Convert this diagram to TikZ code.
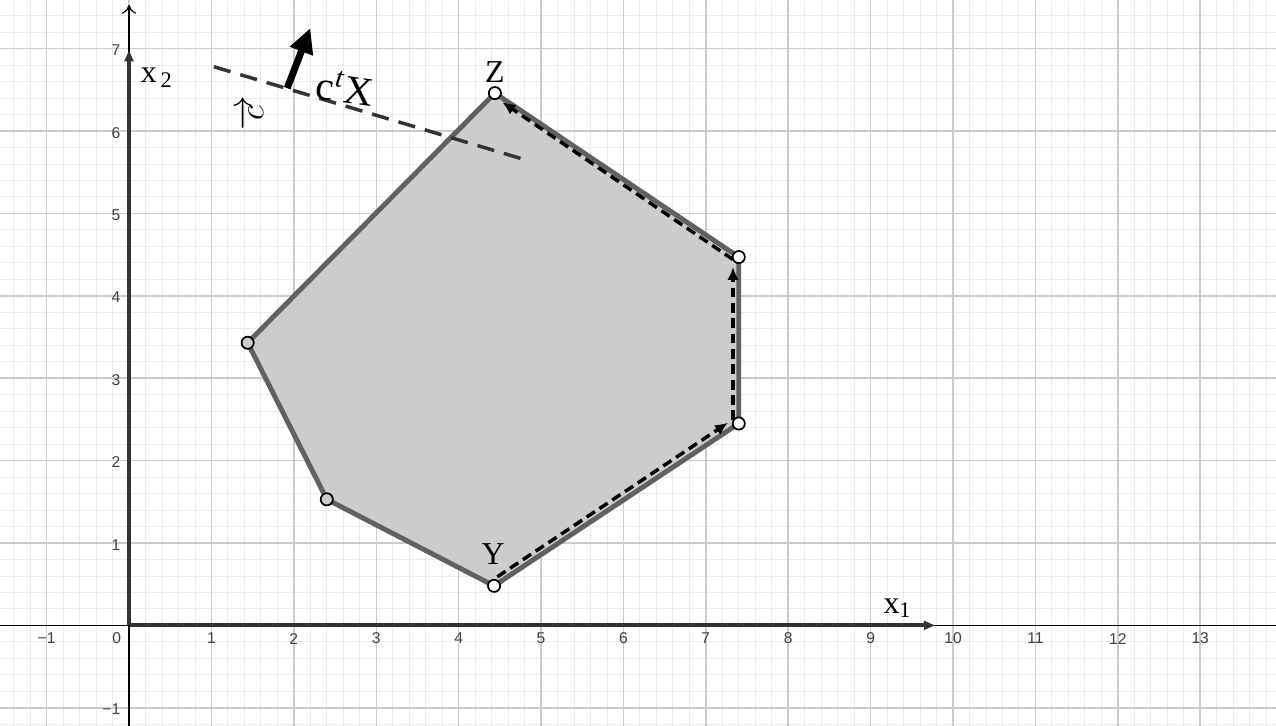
\documentclass[tikz,border=0pt]{standalone}
\usepackage{fontspec}
\setmainfont{Liberation Serif}
\setsansfont{Liberation Sans}
\usetikzlibrary{arrows.meta,calc}

\begin{document}
\begin{tikzpicture}[x=1cm,y=1cm,
    vertice/.style={circle,draw=black,line width=0.6pt,fill=white,inner sep=0pt,minimum size=4.2pt},
    ruta/.style={black,line width=1.2pt,dash pattern=on 3.4pt off 1.9pt,-{Latex[length=4.5pt,width=4pt]}},
    etiqueta/.style={inner sep=0pt,font=\fontsize{11}{12}\selectfont},
    marca/.style={inner sep=0pt,text=black!75,font=\sffamily\fontsize{5.4}{6}\selectfont}]
    % Colores
    \colorlet{regioncolor}{black!20}
    \colorlet{bordecolor}{black!62}
    \colorlet{ejecolor}{black!80}

    % Marco
    \useasboundingbox (-1.566,-1.22) rectangle (13.92,7.59);
    \fill[white] (-1.566,-1.22) rectangle (13.92,7.59);

    % Cuadricula
    \draw[black!8,line width=0.3pt,step=0.2] (-1.566,-1.22) grid (13.92,7.59);
    \draw[black!20,line width=0.5pt,step=1] (-1.566,-1.22) grid (13.92,7.59);

    % Ejes finos
    \draw[black,line width=0.4pt] (-1.566,0) -- (13.92,0);
    \draw[black,line width=0.4pt,-{To[length=3pt,width=5pt]}] (0,-1.22) -- (0,7.53);

    % Numeros de los ejes
    \foreach \x in {1,...,13}
    {
        \node[marca] (mx\x) at (\x,-0.16) {\x};
    }
    \node[marca] (mxm) at (-1,-0.16) {−1};
    \node[marca] (m0) at (-0.15,-0.16) {0};
    \foreach \y in {1,...,7}
    {
        \node[marca,anchor=east] (my\y) at (-0.1,\y-0.02) {\y};
    }
    \node[marca,anchor=east] (mym) at (-0.1,-1.02) {−1};

    % Ejes gruesos
    \draw[ejecolor,line width=1.4pt,-{Triangle[length=3.8pt,width=3pt]}] (0,0) -- (9.78,0);
    \draw[ejecolor,line width=1.4pt,-{Triangle[length=3.8pt,width=3pt]}] (0,0) -- (0,6.98);

    % Vertices de la region
    \coordinate (pY) at (4.43,0.48);
    \coordinate (pB) at (7.40,2.45);
    \coordinate (pC) at (7.40,4.47);
    \coordinate (pZ) at (4.44,6.46);
    \coordinate (pE) at (1.44,3.43);
    \coordinate (pF) at (2.40,1.53);

    % Region factible
    \filldraw[fill=regioncolor,draw=bordecolor,line width=1.7pt,line join=round]
        (pY) -- (pB) -- (pC) -- (pZ) -- (pE) -- (pF) -- cycle;

    % Recta de nivel
    \coordinate (n1) at (1.03,6.78);
    \coordinate (n2) at (4.81,5.65);
    \draw[black!80,line width=1.2pt,dash pattern=on 6pt off 3.5pt] (n1) -- (n2);

    % Direccion de mejora
    \coordinate (g0) at (1.92,6.52);
    \coordinate (g1) at (2.20,7.25);
    \draw[black,line width=2.4pt,-{Triangle[length=8.6pt,width=8pt]}] (g0) -- (g1);

    % Camino de Y a Z
    \draw[ruta] ([shift={(0.04,0.11)}]pY) -- ([shift={(-0.13,0.01)}]pB);
    \draw[ruta] ([shift={(-0.07,0.04)}]pB) -- ([shift={(-0.07,-0.12)}]pC);
    \draw[ruta] ([shift={(-0.07,-0.03)}]pC) -- ([shift={(0.09,-0.11)}]pZ);

    % Puntos
    \node[vertice] (Y) at (pY) {};
    \node[vertice] (B) at (pB) {};
    \node[vertice] (C) at (pC) {};
    \node[vertice] (Z) at (pZ) {};
    \node[vertice,fill=regioncolor] (E) at (pE) {};
    \node[vertice,fill=regioncolor] (F) at (pF) {};

    % Etiquetas
    \node[etiqueta] (lZ) at (4.44,6.71) {Z};
    \node[etiqueta] (lY) at (4.42,0.86) {Y};
    \node[etiqueta] (lx1) at (9.33,0.21) {x\textsubscript{1}};
    \node[etiqueta] (lx2) at (0.34,6.65) {x\textsubscript{\,2}};
    \node[etiqueta,font=\fontsize{14}{15}\selectfont,rotate=-8] (lcx) at (2.62,6.53) {c\textsuperscript{\textit{t}}X};
    \node[etiqueta,font=\fontsize{13}{14}\selectfont,rotate=90] (lc) at (1.48,6.22) {$\overrightarrow{c}$};

\end{tikzpicture}
\end{document}
